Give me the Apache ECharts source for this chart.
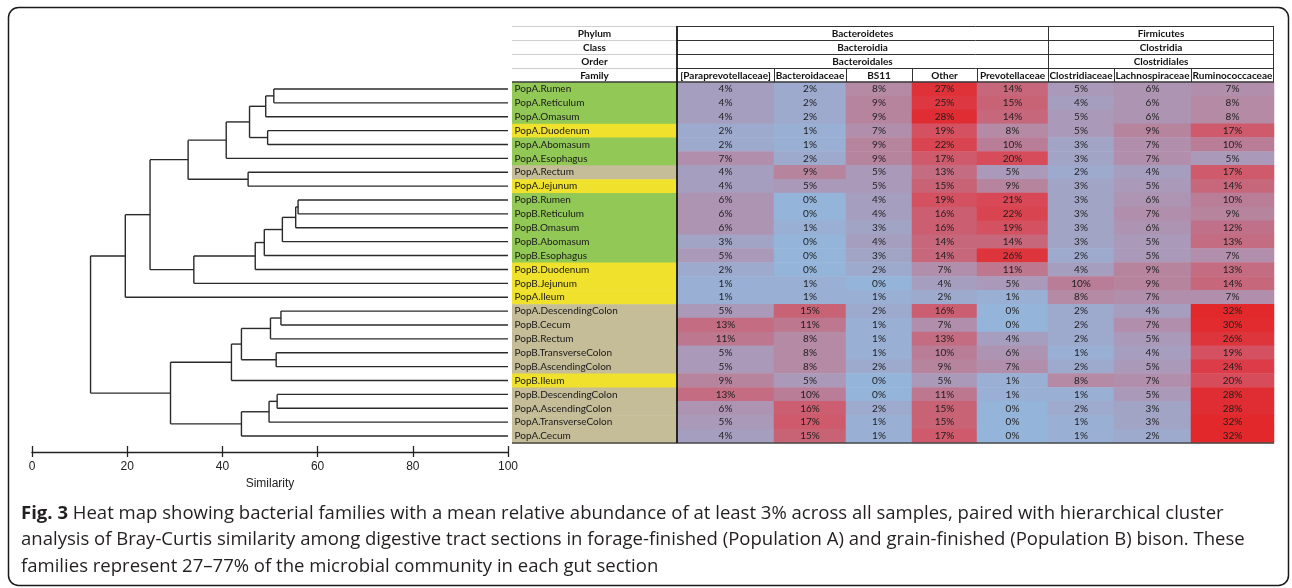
<!DOCTYPE html>
<html>
<head>
<meta charset="utf-8">
<script src="https://cdn.jsdelivr.net/npm/echarts@6.0.0/dist/echarts.min.js"></script>
<style>
  html, body { margin: 0; padding: 0; background: #fff; }
  #chart { width: 1292px; height: 588px; }
</style>
</head>
<body>
<div id="chart"></div>
<script>
// Gut sections, in dendrogram leaf order (top to bottom)
const samples = [
  'PopA.Rumen', 'PopA.Reticulum', 'PopA.Omasum', 'PopA.Duodenum', 'PopA.Abomasum',
  'PopA.Esophagus', 'PopA.Rectum', 'PopA.Jejunum', 'PopB.Rumen', 'PopB.Reticulum',
  'PopB.Omasum', 'PopB.Abomasum', 'PopB.Esophagus', 'PopB.Duodenum', 'PopB.Jejunum',
  'PopA.Ileum', 'PopA.DescendingColon', 'PopB.Cecum', 'PopB.Rectum', 'PopB.TransverseColon',
  'PopB.AscendingColon', 'PopB.Ileum', 'PopB.DescendingColon', 'PopA.AscendingColon',
  'PopA.TransverseColon', 'PopA.Cecum'
];
// Tract region of each section: fore = esophagus + stomach, small = small intestine, large = hindgut
const regions = [
  'fore', 'fore', 'fore', 'small', 'fore', 'fore', 'large', 'small', 'fore', 'fore',
  'fore', 'fore', 'fore', 'small', 'small', 'small', 'large', 'large', 'large', 'large',
  'large', 'small', 'large', 'large', 'large', 'large'
];

// Taxonomy header
const families = ['[Paraprevotellaceae]', 'Bacteroidaceae', 'BS11', 'Other', 'Prevotellaceae',
  'Clostridiaceae', 'Lachnospiraceae', 'Ruminococcaceae'];
const phyla = [['Bacteroidetes', 5], ['Firmicutes', 3]];
const classes = [['Bacteroidia', 5], ['Clostridia', 3]];
const orders = [['Bacteroidales', 5], ['Clostridiales', 3]];
const rankNames = ['Phylum', 'Class', 'Order', 'Family'];

// Relative abundance (%) of each family per section
const paraprevotellaceae = [4, 4, 4, 2, 2, 7, 4, 4, 6, 6, 6, 3, 5, 2, 1, 1, 5, 13, 11, 5, 5, 9, 13, 6, 5, 4];
const bacteroidaceae = [2, 2, 2, 1, 1, 2, 9, 5, 0, 0, 1, 0, 0, 0, 1, 1, 15, 11, 8, 8, 8, 5, 10, 16, 17, 15];
const bs11 = [8, 9, 9, 7, 9, 9, 5, 5, 4, 4, 3, 4, 3, 2, 0, 1, 2, 1, 1, 1, 2, 0, 0, 2, 1, 1];
const other = [27, 25, 28, 19, 22, 17, 13, 15, 19, 16, 16, 14, 14, 7, 4, 2, 16, 7, 13, 10, 9, 5, 11, 15, 15, 17];
const prevotellaceae = [14, 15, 14, 8, 10, 20, 5, 9, 21, 22, 19, 14, 26, 11, 5, 1, 0, 0, 4, 6, 7, 1, 1, 0, 0, 0];
const clostridiaceae = [5, 4, 5, 5, 3, 3, 2, 3, 3, 3, 3, 3, 2, 4, 10, 8, 2, 2, 2, 1, 2, 8, 1, 2, 1, 1];
const lachnospiraceae = [6, 6, 6, 9, 7, 7, 4, 5, 6, 7, 6, 5, 5, 9, 9, 7, 4, 7, 5, 4, 5, 7, 5, 3, 3, 2];
const ruminococcaceae = [7, 8, 8, 17, 10, 5, 17, 14, 10, 9, 12, 13, 7, 13, 14, 7, 32, 30, 26, 19, 24, 20, 28, 28, 32, 32];
const columns = [paraprevotellaceae, bacteroidaceae, bs11, other, prevotellaceae,
  clostridiaceae, lachnospiraceae, ruminococcaceae];

// Bray-Curtis cluster joins: [child, child, similarity %]
// numbers are leaf rows, 'mK' is the K-th join in this list
const merges = [
  [0, 1, 50.8], ['m0', 2, 49.1], [3, 4, 49.5], ['m1', 'm2', 45.7], ['m3', 5, 40.8],
  [6, 7, 45.4], ['m4', 'm5', 32.8],
  [8, 9, 55.9], ['m7', 10, 55.4], ['m8', 11, 52.6], ['m9', 12, 48.8], ['m10', 13, 46.9], ['m11', 14, 34.0],
  ['m6', 'm12', 24.8], ['m13', 15, 19.6],
  [16, 17, 52.3], ['m15', 18, 50.1], [19, 20, 51.3], ['m16', 'm17', 44.0], ['m18', 21, 41.9],
  [22, 23, 51.5], ['m20', 24, 49.8], ['m21', 25, 44.0], ['m19', 'm22', 29.1],
  ['m14', 'm23', 12.3]
];
const similarityTicks = [0, 100, 20]; // min, max, step

const regionColors = { fore: '#92c855', small: '#efe12c', large: '#c5bc98' };
const heatColors = ['#94b4da', '#a69ebf', '#b48aa5', '#c07088', '#cb5e70', '#d64c5b', '#dc3c47', '#e02d33', '#e2282b'];

// ---- layout ----
const L = {
  dendroLeft: 32, dendroW: 476,
  labelLeft: 512, labelW: 165,
  colW: [97, 72, 66, 65, 71, 66, 77, 83],
  headTop: 26, headRowH: 14,
  bodyTop: 82, bodyH: 361
};
const dataLeft = L.labelLeft + L.labelW;
const colLeft = [];
let acc = dataLeft;
L.colW.forEach(w => { colLeft.push(acc); acc += w; });
const tableRight = acc;
const bodyBottom = L.bodyTop + L.bodyH;

// dendrogram line segments [x1, y1, x2, y2] in (similarity, row) units
function dendroSegments() {
  const nodes = {};
  const pos = id => typeof id === 'number' ? { x: 100, y: id } : nodes[id];
  const segs = [];
  merges.forEach((m, k) => {
    const a = pos(m[0]), b = pos(m[1]), s = m[2];
    segs.push([s, a.y, s, b.y]);
    segs.push([s, a.y, a.x, a.y]);
    segs.push([s, b.y, b.x, b.y]);
    nodes['m' + k] = { x: s, y: (a.y + b.y) / 2 };
  });
  return segs;
}

const rowAxis = (gridIndex) => ({
  type: 'value', gridIndex, min: -0.5, max: samples.length - 0.5, inverse: true, show: false
});

const axisFont = { fontSize: 12, fontFamily: 'Liberation Sans', color: '#222' };
const grids = [{ left: L.dendroLeft, width: L.dendroW, top: L.bodyTop, height: L.bodyH, outerBoundsMode: 'none' }];
const xAxes = [
  {
    type: 'value', gridIndex: 0, min: similarityTicks[0], max: similarityTicks[1], interval: similarityTicks[2],
    position: 'bottom', offset: 9,
    axisLine: { show: true, onZero: false, lineStyle: { color: '#222', width: 1.3 } },
    axisTick: { show: true, inside: false, length: 5, lineStyle: { color: '#222', width: 1.3 } },
    axisLabel: Object.assign({ show: true, margin: 8.5 }, axisFont),
    splitLine: { show: false },
    name: 'Similarity', nameLocation: 'middle', nameGap: 25.5,
    nameTextStyle: axisFont
  },
  {
    type: 'value', gridIndex: 0, min: similarityTicks[0], max: similarityTicks[1], interval: similarityTicks[2],
    position: 'bottom', offset: 9,
    axisLine: { show: false, onZero: false },
    axisTick: { show: true, inside: true, length: 6, lineStyle: { color: '#222', width: 1.3 } },
    axisLabel: { show: false }, splitLine: { show: false }
  }
];
const yAxes = [rowAxis(0)];
const series = [{
  type: 'custom', xAxisIndex: 0, yAxisIndex: 0,
  dimensions: ['x1', 'y1', 'x2', 'y2'],
  encode: { x: [0, 2], y: [1, 3] },
  data: dendroSegments(),
  silent: true,
  renderItem: (params, api) => {
    const p1 = api.coord([api.value(0), api.value(1)]);
    const p2 = api.coord([api.value(2), api.value(3)]);
    return {
      type: 'line',
      shape: { x1: p1[0], y1: p1[1], x2: p2[0], y2: p2[1] },
      style: { stroke: '#2a2a2a', lineWidth: 1.4 }
    };
  }
}];

// one grid per family column
columns.forEach((col, i) => {
  grids.push({ left: colLeft[i], width: L.colW[i], top: L.bodyTop, height: L.bodyH, outerBoundsMode: 'none' });
  xAxes.push({ type: 'category', gridIndex: i + 1, data: [families[i]], show: false });
  yAxes.push({ type: 'category', gridIndex: i + 1, data: samples, inverse: true, show: false });
  series.push({
    type: 'heatmap', xAxisIndex: i + 2, yAxisIndex: i + 1,
    data: col.map((v, r) => [0, r, v]),
    label: {
      show: true, formatter: p => p.value[2] + '%',
      fontSize: 10, fontFamily: 'Lato', color: '#1e1e1e'
    },
    itemStyle: { borderWidth: 0 },
    emphasis: { disabled: true }
  });
});

// sample label column
grids.push({ left: L.labelLeft, width: L.labelW, top: L.bodyTop, height: L.bodyH, outerBoundsMode: 'none' });
xAxes.push({ type: 'value', gridIndex: columns.length + 1, min: 0, max: 1, show: false });
yAxes.push(rowAxis(columns.length + 1));
series.push({
  type: 'custom', xAxisIndex: columns.length + 2, yAxisIndex: columns.length + 1,
  data: samples.map((s, i) => [0, i]),
  encode: { x: 0, y: 1 },
  silent: true,
  renderItem: (params, api) => {
    const i = api.value(1);
    const a = api.coord([0, i - 0.5]);
    const b = api.coord([1, i + 0.5]);
    const y0 = Math.min(a[1], b[1]), h = Math.abs(b[1] - a[1]);
    return {
      type: 'group',
      children: [
        { type: 'rect', shape: { x: a[0], y: y0, width: b[0] - a[0], height: h + 0.6 },
          style: { fill: regionColors[regions[i]] } },
        { type: 'text', x: a[0] + 2.5, y: y0 + h / 2,
          style: { text: samples[i], font: '10px Lato', fill: '#1a1a1a', align: 'left', verticalAlign: 'middle' } }
      ]
    };
  }
});

// ---- table header, rules, frame and caption ----
const g = [];
const line = (x1, y1, x2, y2, stroke, w) => g.push({
  type: 'line', silent: true, z: 10, shape: { x1, y1, x2, y2 }, style: { stroke, lineWidth: w }
});
const label = (t, x, y, font) => g.push({
  type: 'text', silent: true, z: 10, x, y,
  style: { text: t, font, fill: '#111', align: 'center', verticalAlign: 'middle', textAlign: 'center', textVerticalAlign: 'middle' }
});
const headFont = 'bold 10px Lato';

rankNames.forEach((n, r) => {
  const yTop = L.headTop + r * L.headRowH;
  label(n, L.labelLeft + L.labelW / 2, yTop + L.headRowH / 2 + 0.5, headFont);
  line(L.labelLeft, yTop + 0.5, dataLeft, yTop + 0.5, '#cfcfcf', 1);
  line(dataLeft, yTop + 0.5, tableRight, yTop + 0.5, '#333', 1);
});
[phyla, classes, orders].forEach((spans, r) => {
  const yTop = L.headTop + r * L.headRowH;
  let c = 0;
  spans.forEach(([name, n]) => {
    const x0 = colLeft[c], x1 = colLeft[c + n - 1] + L.colW[c + n - 1];
    label(name, (x0 + x1) / 2, yTop + L.headRowH / 2 + 0.5, headFont);
    if (c > 0) line(x0 + 0.5, yTop, x0 + 0.5, yTop + L.headRowH, '#333', 1);
    c += n;
  });
});
const famTop = L.headTop + 3 * L.headRowH;
families.forEach((f, i) => {
  label(f, colLeft[i] + L.colW[i] / 2, famTop + L.headRowH / 2 + 0.5, headFont);
  if (i > 0) line(colLeft[i] + 0.5, famTop, colLeft[i] + 0.5, famTop + L.headRowH, '#333', 1);
});
line(tableRight - 0.5, L.headTop, tableRight - 0.5, L.bodyTop, '#333', 1);
line(L.labelLeft, L.bodyTop, tableRight, L.bodyTop, '#3a3a3a', 1.6);
line(L.labelLeft, bodyBottom, tableRight, bodyBottom, '#4a4a4a', 1.6);
line(dataLeft, L.headTop, dataLeft, bodyBottom, '#151515', 1.8);

// rounded frame
g.push({
  type: 'rect', silent: true, z: 20,
  shape: { x: 8.5, y: 7.5, width: 1280, height: 578, r: 10 },
  style: { fill: 'none', stroke: '#1a1a1a', lineWidth: 1.5 }
});

// caption
const capSize = 18.55;
const captionLines = [
  '{b|Fig. 3} Heat map showing bacterial families with a mean relative abundance of at least 3% across all samples, paired with hierarchical cluster',
  'analysis of Bray-Curtis similarity among digestive tract sections in forage-finished (Population A) and grain-finished (Population B) bison. These',
  'families represent 27\u201377% of the microbial community in each gut section'
];
captionLines.forEach((t, k) => g.push({
  type: 'text', silent: true, z: 10, x: 21, y: 513.5 + k * 26.5,
  style: {
    text: t, font: capSize + 'px "Open Sans"', fill: '#231f20',
    align: 'left', verticalAlign: 'middle', textAlign: 'left', textVerticalAlign: 'middle',
    rich: { b: { fontWeight: 'bold', fontSize: capSize, fontFamily: 'Open Sans', fill: '#231f20' } }
  }
}));

const chart = echarts.init(document.getElementById('chart'), null, { renderer: 'canvas' });
chart.setOption({
  animation: false,
  backgroundColor: '#fff',
  grid: grids,
  xAxis: xAxes,
  yAxis: yAxes,
  visualMap: {
    type: 'continuous', show: false, min: 0, max: 32,
    seriesIndex: columns.map((c, i) => i + 1),
    inRange: { color: heatColors }
  },
  series,
  graphic: { elements: g }
});
</script>
</body>
</html>
